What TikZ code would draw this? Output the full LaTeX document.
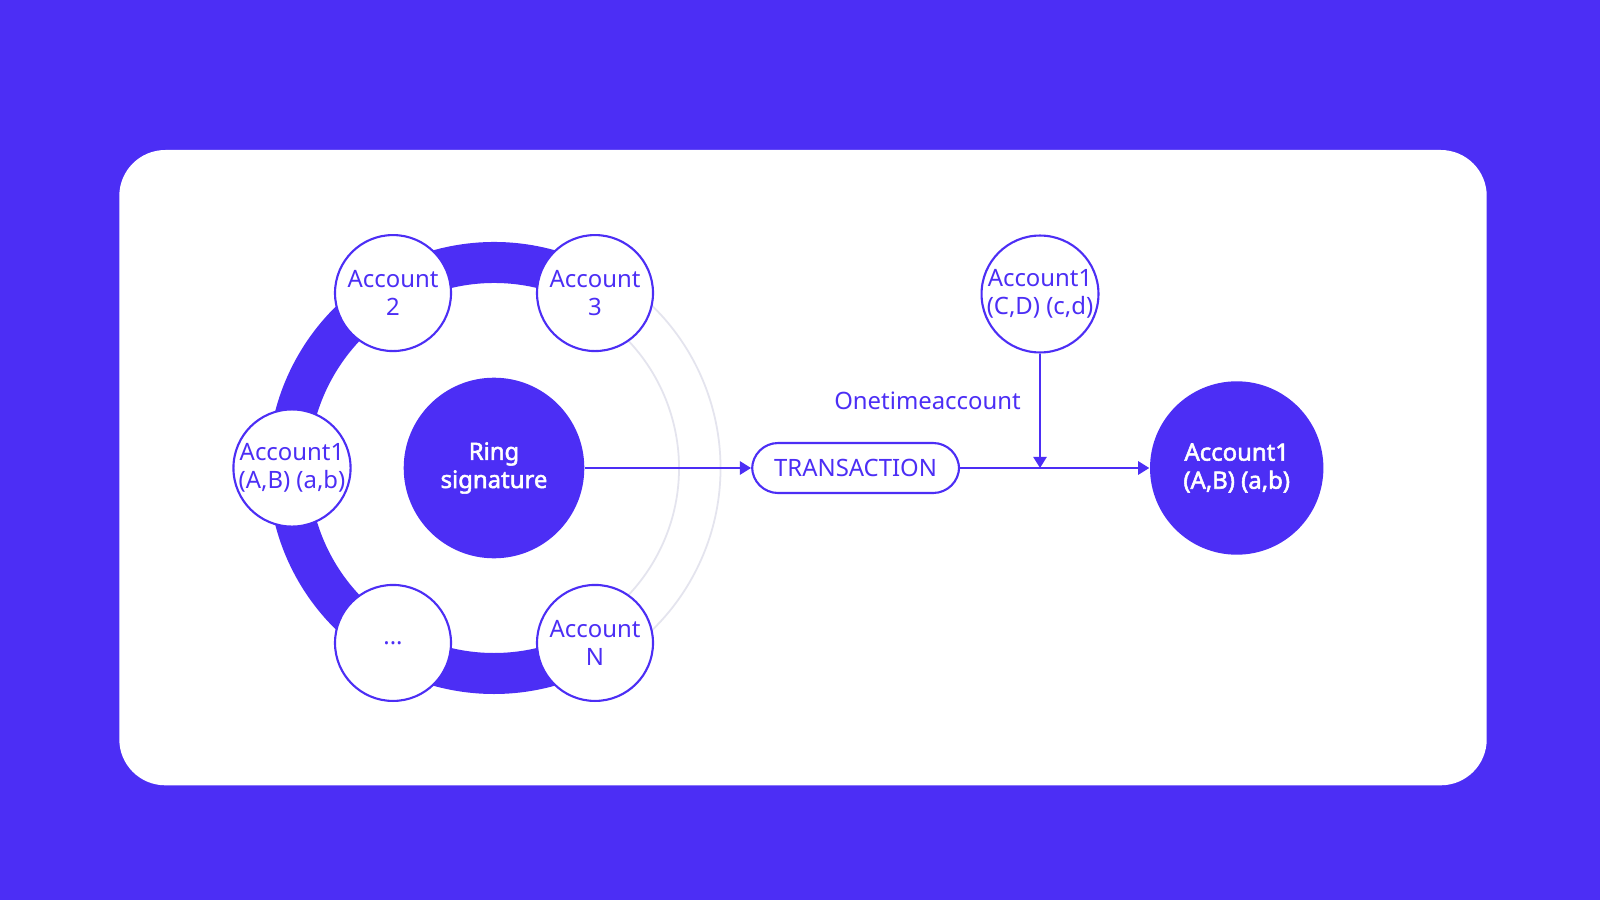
\documentclass[tikz,border=0pt]{standalone}
\usepackage{fontspec}
\setmainfont{Noto Sans}[AutoFakeBold=2.2]
\usepackage{tikz}
\usepackage{xcolor}
\usetikzlibrary{arrows.meta}
\usetikzlibrary{shapes.geometric}
\definecolor{ringblue}{RGB}{76,46,245}
\definecolor{arcgray}{RGB}{228,228,238}
\tikzset{
	acct/.style={circle,draw=ringblue,line width=0.6pt,fill=white,text=ringblue,minimum size=1.16cm,inner sep=0pt,align=center,font=\fontsize{6.8pt}{8pt}\selectfont},
	hub/.style={circle,fill=ringblue,text=white,inner sep=0pt,align=center,font=\fontsize{6.8pt}{8pt}\selectfont\bfseries},
	txbox/.style={draw=ringblue,line width=0.6pt,fill=white,text=ringblue,rounded corners=0.26cm,minimum width=2.07cm,minimum height=0.50cm,inner sep=0pt,font=\fontsize{6.8pt}{8pt}\selectfont},
	lbl/.style={text=ringblue,inner sep=0pt,font=\fontsize{6.8pt}{8pt}\selectfont},
	link/.style={draw=ringblue,line width=0.6pt,-{Triangle[length=3.2pt,width=3.8pt]}}
}

\begin{document}
\begin{tikzpicture}
			\useasboundingbox (0,0) rectangle (16,9);
			\fill[ringblue] (0,0) rectangle (16,9);
			\fill[white,rounded corners=0.46cm] (1.193,1.147) rectangle (14.867,7.5);
			\coordinate (mid) at (4.94,4.32);
			\draw[arcgray,line width=0.5pt] ([shift={(60:1.85)}]mid) arc[start angle=60,end angle=-60,radius=1.85];
			\draw[arcgray,line width=0.5pt] ([shift={(60:2.265)}]mid) arc[start angle=60,end angle=-60,radius=2.265];
			\draw[ringblue,line width=0.41cm] ([shift={(60:2.055)}]mid) arc[start angle=60,end angle=300,radius=2.055];
			\node[hub,minimum size=1.806cm] (ring) at (mid) {Ring\\signature};
			\node[acct] (acc3) at ([shift={(60:2.02)}]mid) {Account\\3};
			\node[acct] (acc2) at ([shift={(120:2.02)}]mid) {Account\\2};
			\node[acct] (acc1) at ([shift={(180:2.02)}]mid) {Account1\\(A,B) (a,b)};
			\node[acct] (dots) at ([shift={(240:2.02)}]mid) {...};
			\node[acct] (accn) at ([shift={(300:2.02)}]mid) {Account\\N};
			\node[txbox] (tx) at (8.556,4.32) {TRANSACTION};
			\node[hub,minimum size=1.734cm] (dest) at (12.367,4.32) {Account1\\(A,B) (a,b)};
			\node[acct] (onet) at (10.40,6.06) {Account1\\(C,D) (c,d)};
			\coordinate (join) at (onet |- tx.east);
			\draw[link] (ring) -- (tx);
			\draw[link] (tx) -- (dest);
			\draw[link] (onet) -- (join);
			\node[lbl,anchor=base east] (ota) at ([shift={(-0.185,0.59)}]join) {Onetimeaccount};
		\end{tikzpicture}
\end{document}
